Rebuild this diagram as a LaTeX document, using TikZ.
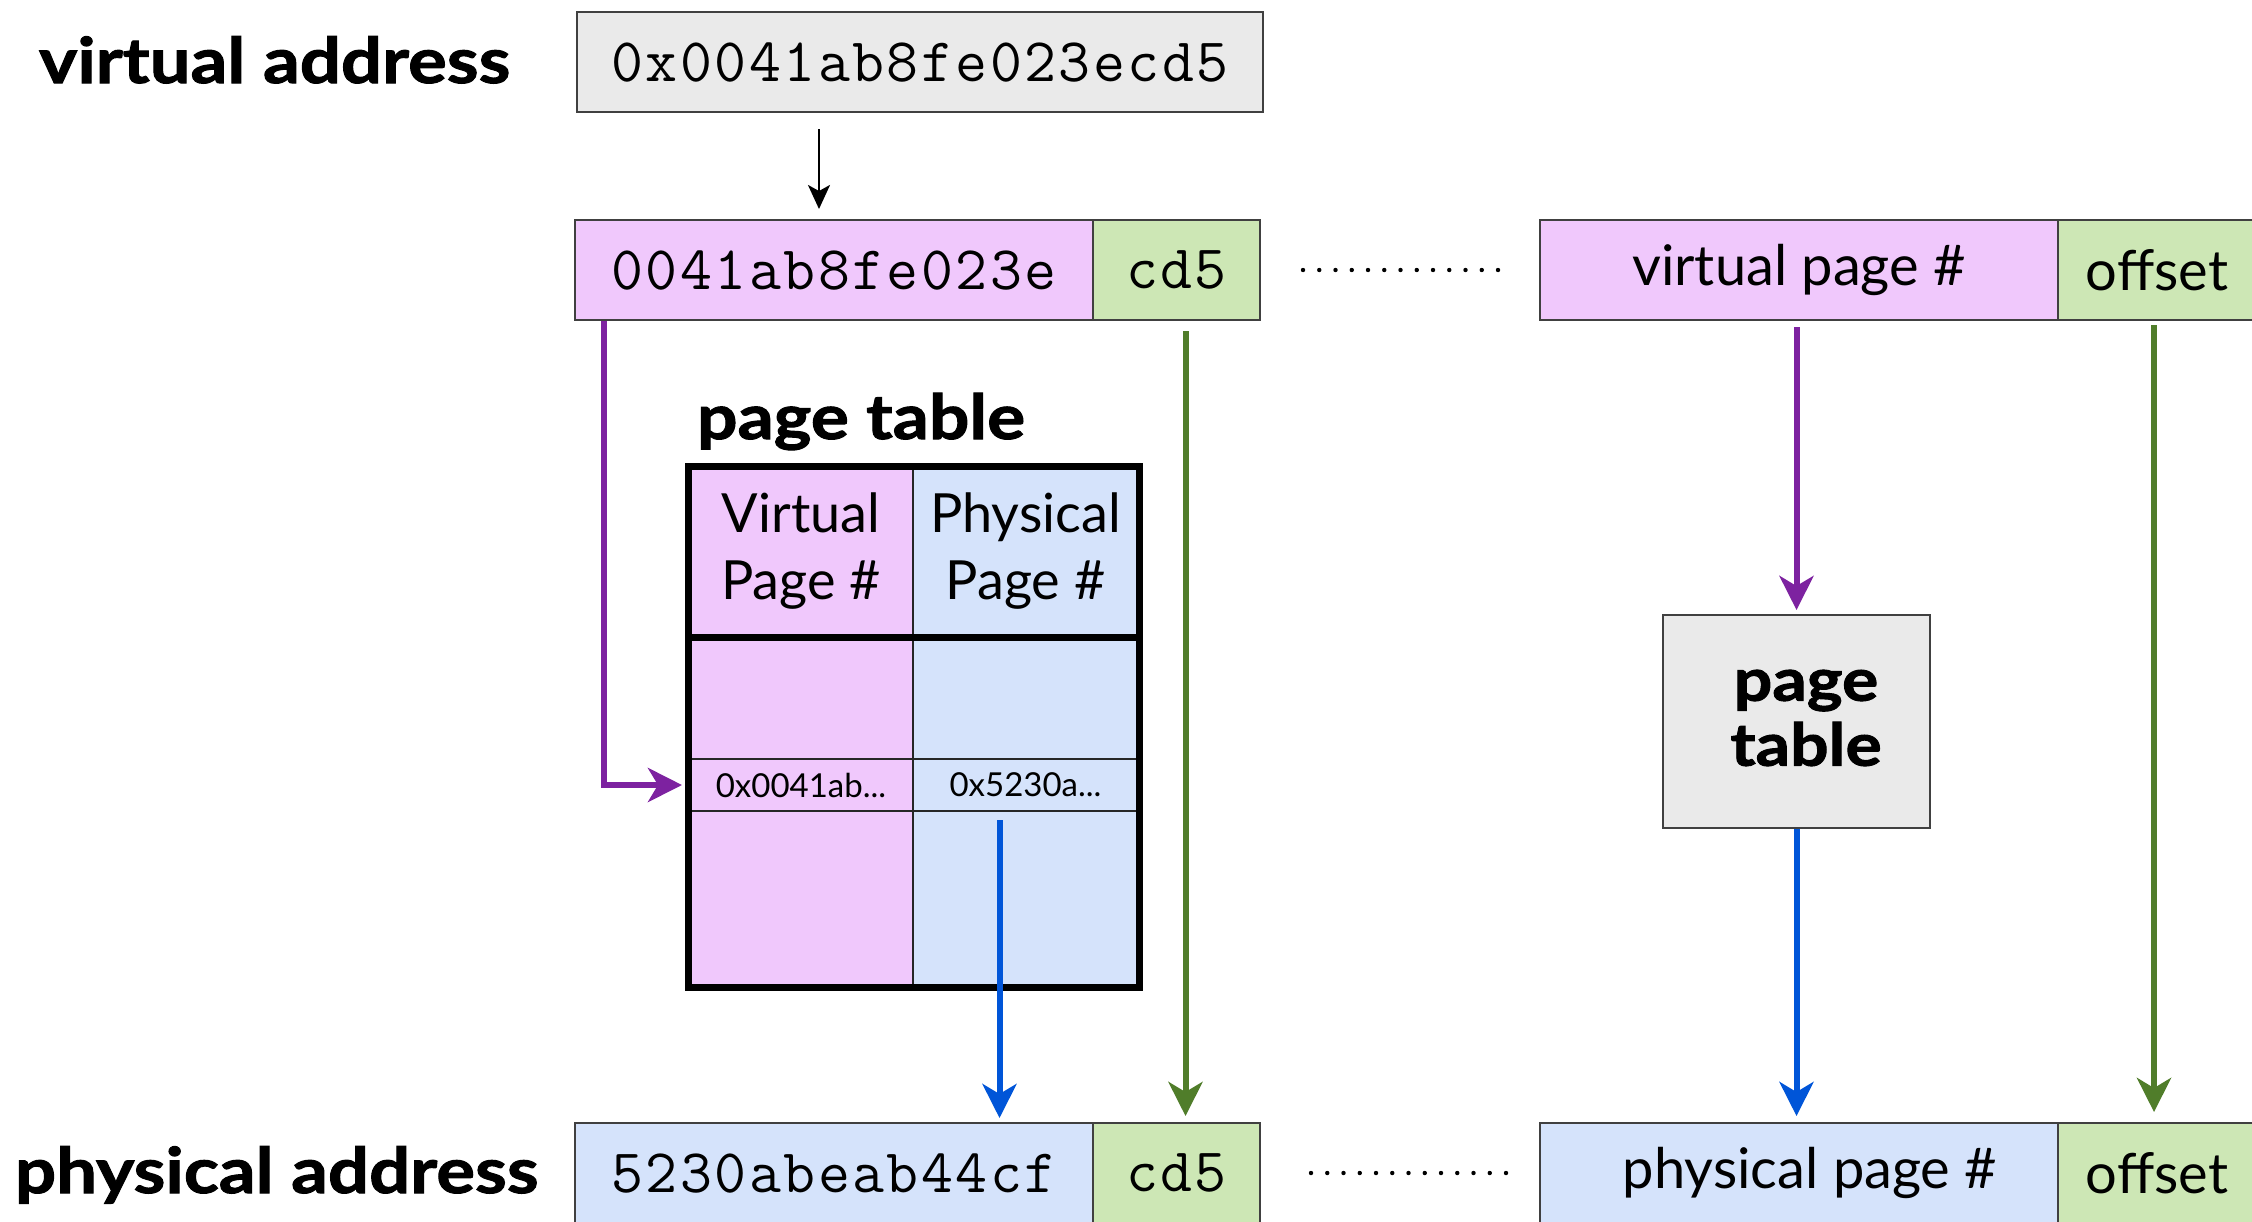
\documentclass[tikz,border=0pt]{standalone}
\usepackage{fontspec}
\setmainfont{Lato}
\newfontfamily\heavy{Lato}[BoldFeatures={FakeStretch=1.15, FakeBold=1.6}]
\newfontfamily\codefont{Latin Modern Mono}[LetterSpace=4]
\usetikzlibrary{arrows.meta,calc}

\definecolor{vpink}{RGB}{240,200,252}
\definecolor{pblue}{RGB}{213,227,251}
\definecolor{ogreen}{RGB}{205,231,181}
\definecolor{boxgray}{RGB}{234,234,234}
\definecolor{edge}{RGB}{64,64,64}
\definecolor{arrpurple}{RGB}{125,34,160}
\definecolor{arrgreen}{RGB}{80,125,42}
\definecolor{arrblue}{RGB}{0,85,216}

\tikzset{
  cell/.style={draw=edge, line width=1pt, inner sep=0pt, minimum height=50pt},
  tcell/.style={draw=black!85, line width=1pt, inner sep=0pt},
  monotext/.style={font=\codefont\fontsize{31}{36}\selectfont},
  plain/.style={font=\fontsize{28}{32}\selectfont},
  headtext/.style={font=\fontsize{27}{33.5}\selectfont, align=center},
  smalltext/.style={font=\fontsize{16.5}{18}\selectfont},
  biglabel/.style={font=\heavy\bfseries\fontsize{31.5}{34}\selectfont},
  boldbox/.style={font=\heavy\bfseries\fontsize{29.5}{32.5}\selectfont, align=center},
  flow/.style={line width=3pt, -{Stealth[length=17pt,width=17pt,inset=5pt]}},
  thinarrow/.style={line width=1.2pt, -{Stealth[length=12pt,width=11pt,inset=3pt]}},
  dots/.style={line width=2.2pt, line cap=round, dash pattern=on 0pt off 8.125pt},
}

\begin{document}
\begin{tikzpicture}[x=0.5pt,y=-0.5pt]
\useasboundingbox (0,0) rectangle (2252,1221);

% side labels
\node[biglabel, anchor=base west] (vlabel) at (32,83) {virtual address};
\node[biglabel, anchor=base west] (plabel) at (8,1193) {physical address};

% virtual address and its split into page number and offset
\node[cell, fill=boxgray, minimum width=343pt, monotext] (vaddr) at (920,62) {0x0041ab8fe023ecd5};
\node[cell, fill=vpink, minimum width=259pt, monotext] (vpnA) at (834,270) {0041ab8fe023e};
\node[cell, fill=ogreen, minimum width=83.5pt, monotext] (offA) at (1176.5,270) {cd5};

% generic layout, top
\node[cell, fill=vpink, minimum width=259pt, plain] (vpnB) at (1799,270) {virtual page \#};
\node[cell, fill=ogreen, minimum width=99pt, plain] (offB) at (2157,270) {offset};

% physical address
\node[cell, fill=pblue, minimum width=259pt, monotext] (ppnA) at (834,1173) {5230abeab44cf};
\node[cell, fill=ogreen, minimum width=83.5pt, monotext] (offA2) at (1176.5,1173) {cd5};

% generic layout, bottom
\node[cell, fill=pblue, minimum width=259pt, plain] (ppnB) at (1799,1173) {};
\node[plain] (ppnBlabel) at (1810,1173) {physical page \#};
\node[cell, fill=ogreen, minimum width=99pt, plain] (offB2) at (2157,1173) {offset};

% page table (detailed)
\node[anchor=base west, font=\heavy\bfseries\fontsize{31}{34}\selectfont] (pttitle) at (690,439) {page table};
\node[tcell, fill=vpink, minimum width=112pt, minimum height=84.5pt, headtext] (hv) at (801,551.5) {Virtual\\Page \#};
\node[tcell, fill=pblue, minimum width=112.5pt, minimum height=84.5pt, headtext] (hp) at (1025.5,551.5) {Physical\\Page \#};
\node[tcell, fill=vpink, minimum width=112pt, minimum height=61.5pt] (r1v) at (801,697.5) {};
\node[tcell, fill=pblue, minimum width=112.5pt, minimum height=61.5pt] (r1p) at (1025.5,697.5) {};
\node[tcell, fill=vpink, minimum width=112pt, minimum height=26pt, smalltext] (ev) at (801,785) {0x0041ab...};
\node[tcell, fill=pblue, minimum width=112.5pt, minimum height=26pt, smalltext] (ep) at (1025.5,785) {0x5230a...};
\node[tcell, fill=vpink, minimum width=112pt, minimum height=87.5pt] (r3v) at (801,898.5) {};
\node[tcell, fill=pblue, minimum width=112.5pt, minimum height=87.5pt] (r3p) at (1025.5,898.5) {};
\draw[line width=3.5pt] (hv.north west) rectangle (r3p.south east);
\draw[line width=3.5pt] (hv.south west) -- (hp.south east);

% page table (abstract)
\node[cell, fill=boxgray, minimum width=133.5pt, minimum height=106.5pt] (ptbox) at (1796.5,721.5) {};
\node[boldbox] (ptlabel) at (1806,718) {page\\table};

% ellipses between the two layouts
\draw[dots] ($(offA.east)+(42,0)$) -- ($(vpnB.west)+(-36,0)$);
\draw[dots] ($(offA2.east)+(50,0)$) -- ($(ppnB.west)+(-27,0)$);

% connectors
\coordinate (splitStart) at ([xshift=-50.5pt,yshift=-8pt]vaddr.south);
\draw[thinarrow, shorten >=5pt] (splitStart) -- (splitStart |- vpnA.north);

\draw[flow, arrpurple] ([xshift=15pt]vpnA.south west) |- ([xshift=-3pt]ev.west);
\coordinate (ppnStart) at ([xshift=-13pt,yshift=-4pt]ep.south);
\draw[flow, arrblue, shorten >=2pt] (ppnStart) -- (ppnStart |- ppnA.north);
\coordinate (offStartA) at ([xshift=4.5pt,yshift=-5pt]offA.south);
\draw[flow, arrgreen, shorten >=3pt] (offStartA) -- (offStartA |- offA2.north);

\coordinate (vpnStartB) at ([yshift=-3pt]ptbox.north |- vpnB.south);
\draw[flow, arrpurple, shorten >=2pt] (vpnStartB) -- (ptbox.north);
\draw[flow, arrblue, shorten >=3pt] (ptbox.south) -- (ptbox.south |- ppnB.north);
\coordinate (offStartB) at ([xshift=-1.5pt,yshift=-2pt]offB.south);
\draw[flow, arrgreen, shorten >=5pt] (offStartB) -- (offStartB |- offB2.north);
\end{tikzpicture}
\end{document}
